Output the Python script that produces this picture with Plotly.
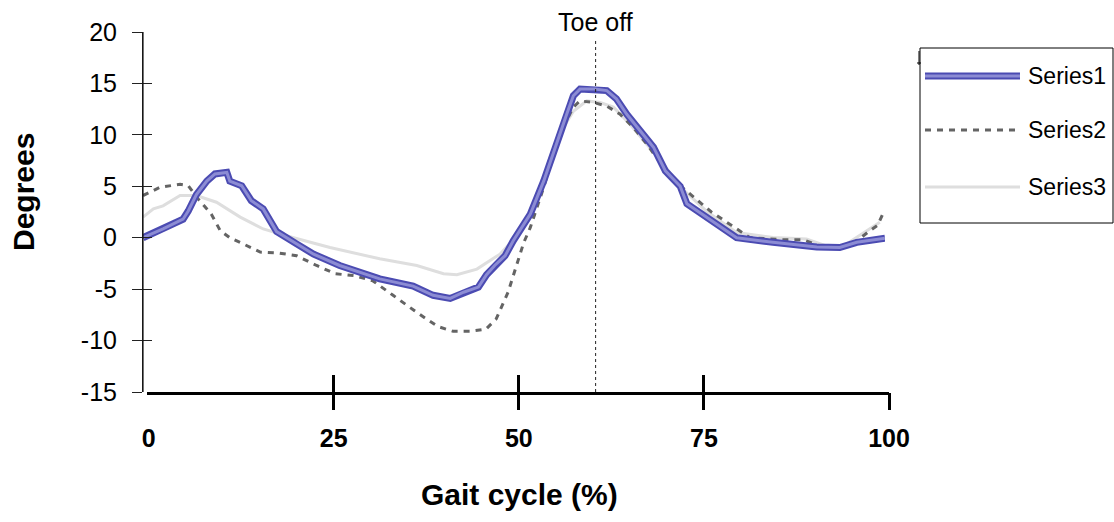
import plotly.graph_objects as go

# ---------------- data ----------------
series_names = ["Series1", "Series2", "Series3"]

x1 = [0, 2.7, 5.4, 6.1, 7.2, 8.6, 9.7, 11.3, 11.7, 13.3, 14.6, 16.2, 18.0, 20.7, 23, 26.5,
      31.9, 36.4, 39.1, 41.4, 43.2, 45.2, 46.3, 47.4, 48.8, 49.9, 52.2, 54, 55.8, 57.1, 58,
      58.9, 60.9, 62.5, 63.8, 65.2, 67, 68.8, 70.4, 72.4, 73.3, 75.9, 80, 84.9, 90.8, 93.9,
      96.2, 100]
y1 = [0, 0.85, 1.8, 2.6, 4.2, 5.5, 6.2, 6.35, 5.5, 5.05, 3.6, 2.8, 0.6, -0.6, -1.6, -2.7,
      -4.0, -4.7, -5.6, -5.9, -5.3, -4.8, -3.6, -2.7, -1.75, -0.3, 2.3, 5.5, 9.4, 12.0, 13.8,
      14.45, 14.45, 14.3, 13.5, 12.0, 10.4, 8.8, 6.5, 5.0, 3.3, 2.0, 0.0, -0.45, -0.9, -0.95,
      -0.45, -0.05]

x2 = [0, 2.3, 5, 6.1, 7.4, 9.2, 10.4, 11.7, 13.5, 15.8, 18.4, 20.7, 23.4, 25.9, 28.6, 31,
      33.7, 35.3, 36.6, 38.2, 39.8, 41.8, 44.1, 46.2, 47.6, 49.2, 50.3, 51.3, 52.2, 53.1, 54,
      55.3, 56.6, 58, 58.9, 60.7, 62.5, 64.3, 66.1, 67.9, 70, 72.5, 76.6, 81.8, 86.3, 89,
      91.2, 93.9, 96.2, 98, 99, 99.7]
y2 = [4.1, 4.9, 5.2, 5.05, 3.8, 2.3, 0.7, 0.0, -0.6, -1.4, -1.5, -1.75, -2.7, -3.5, -3.7,
      -4.2, -5.6, -6.45, -7.1, -7.9, -8.65, -9.1, -9.1, -8.9, -7.9, -5.3, -2.8, -0.5, 1.0,
      2.9, 4.9, 8.1, 10.7, 12.7, 13.3, 13.15, 12.8, 12.0, 10.7, 9.1, 7.0, 5.0, 2.5, 0.0,
      -0.2, -0.2, -0.8, -0.95, -0.3, 0.7, 1.2, 2.3]

x3 = [0, 1.4, 2.7, 5, 7.2, 9.9, 13.1, 16.2, 19.8, 25.2, 31.9, 36.9, 40.5, 42.3, 45, 46.8,
      48.1, 49.4, 50.8, 53.1, 54.8, 56.4, 58, 59.8, 61.6, 63.4, 65.6, 67.9, 70.1, 72.6, 75.9,
      80, 84.9, 89.4, 92.1, 94.4, 96.6, 99.3]
y3 = [2.0, 2.8, 3.1, 4.1, 4.1, 3.45, 2.0, 0.85, 0.1, -0.95, -2.05, -2.7, -3.5, -3.6, -3.05,
      -2.2, -1.6, -0.6, 0.7, 3.6, 7.2, 10.4, 12.3, 13.3, 13.15, 12.7, 11.05, 9.1, 7.2, 4.8,
      2.6, 0.5, 0.03, -0.13, -0.8, -0.8, 0.2, 1.5]

x_tick_vals = [0, 25, 50, 75, 100]
x_tick_labels = ["0", "25", "50", "75", "100"]
x_mark_vals = [25, 50, 75, 100]
y_tick_vals = [-15, -10, -5, 0, 5, 10, 15, 20]
y_tick_labels = ["-15", "-10", "-5", "0", "5", "10", "15", "20"]
toe_off_pct = 61
toe_off_label = "Toe off"
x_title = "Gait cycle (%)"
y_title = "Degrees"

# ---------------- layout geometry ----------------
W, H = 1114, 522
ML, MR, MT, MB = 143, 225, 32, 130
PW = W - ML - MR          # 746
PH = H - MT - MB          # 360

def px_x(p):   # pixel x -> paper x
    return (p - ML) / PW

def px_y(p):   # pixel y -> paper y
    return (H - MB - p) / PH

FONT = "Liberation Sans, Arial, sans-serif"
S1_OUT, S1_IN = "#4b4bb2", "#8c8cd4"
S2_COL = "#646464"
S2_DASH = "6px,6px"
S3_COL = "#dedede"
CLEAR = "rgba(0,0,0,0)"

fig = go.Figure()

# Series3 (light grey, drawn first)
fig.add_trace(go.Scatter(x=x3, y=y3, mode="lines", name=series_names[2],
                         line=dict(color=S3_COL, width=3), showlegend=False))
# Series2 (dark dashed)
fig.add_trace(go.Scatter(x=x2, y=y2, mode="lines", name=series_names[1],
                         line=dict(color=S2_COL, width=3, dash=S2_DASH), showlegend=False))
# Series1 (thick hatched blue)
fig.add_trace(go.Scatter(x=x1, y=y1, mode="lines", name=series_names[0],
                         line=dict(color=S1_OUT, width=7), showlegend=False))
fig.add_trace(go.Scatter(x=x1, y=y1, mode="lines", name=series_names[0],
                         line=dict(color=S1_IN, width=3), showlegend=False, hoverinfo="skip"))

# helper traces so the tick axes exist
for ax in ["x2", "x3", "x4"]:
    fig.add_trace(go.Scatter(x=x_tick_vals, y=[None] * len(x_tick_vals), xaxis=ax, yaxis="y",
                             mode="lines", showlegend=False, hoverinfo="skip"))
fig.add_trace(go.Scatter(x=[None], y=y_tick_vals, xaxis="x", yaxis="y2",
                         mode="lines", showlegend=False, hoverinfo="skip"))

x2_dom0 = 3.7 / PW
x_lab_range = [-0.27, 100]

fig.update_layout(
    width=W, height=H,
    margin=dict(l=ML, r=MR, t=MT, b=MB, pad=0),
    paper_bgcolor="white", plot_bgcolor=CLEAR,
    font=dict(family=FONT, color="black"),
    showlegend=False,
    xaxis=dict(domain=[0, 742 / PW], range=[0, 100], visible=False),
    # labels axis
    xaxis2=dict(domain=[x2_dom0, 1], range=x_lab_range, anchor="y",
                showline=True, linewidth=3, linecolor="black",
                ticks="", tickvals=x_tick_vals, ticktext=x_tick_labels,
                tickfont=dict(family=FONT, size=25, color="black", weight="bold"),
                ticklabelstandoff=22, showgrid=False, zeroline=False),
    # tick marks outside
    xaxis3=dict(overlaying="x2", range=x_lab_range, anchor="y", side="bottom",
                showline=False, ticks="outside", ticklen=17, tickwidth=3, tickcolor="black",
                tickvals=x_mark_vals, showticklabels=False, showgrid=False, zeroline=False),
    # tick marks inside
    xaxis4=dict(overlaying="x2", range=x_lab_range, anchor="y", side="bottom",
                showline=False, ticks="inside", ticklen=17, tickwidth=3, tickcolor="black",
                tickvals=x_mark_vals, showticklabels=False, showgrid=False, zeroline=False),
    yaxis=dict(range=[-15, 20], anchor="x", showline=True, linewidth=1, linecolor="#222222",
               ticks="outside", ticklen=10, tickwidth=1, tickcolor="#222222",
               tickvals=y_tick_vals, ticktext=y_tick_labels,
               tickfont=dict(family=FONT, size=25, color="black"),
               ticklabelstandoff=10, showgrid=False, zeroline=False),
    yaxis2=dict(range=[-15, 20], overlaying="y", anchor="x", side="left",
                showline=True, linewidth=1, linecolor="#222222",
                ticks="inside", ticklen=9, tickwidth=1, tickcolor="#222222",
                tickvals=y_tick_vals, showticklabels=False, showgrid=False, zeroline=False),
)

# y axis line (explicit, spans the full value range)
fig.add_shape(type="line", xref="paper", yref="y", x0=0, x1=0, y0=-15, y1=20,
              line=dict(color="#111111", width=1.2))

# Toe off vertical line and label
fig.add_shape(type="line", xref="x", yref="y", x0=toe_off_pct, x1=toe_off_pct,
              y0=-15, y1=19.4, line=dict(color="#222222", width=1, dash="dot"))
fig.add_annotation(x=toe_off_pct, xref="x", y=px_y(22), yref="paper",
                   text=toe_off_label, showarrow=False, xanchor="center", yanchor="middle",
                   font=dict(family=FONT, size=25, color="black"))

# axis titles
fig.add_annotation(x=px_x(519), y=px_y(495), xref="paper", yref="paper",
                   text=x_title, showarrow=False, xanchor="center", yanchor="middle",
                   font=dict(family=FONT, size=30, color="black", weight="bold"))
fig.add_annotation(x=px_x(23), y=px_y(192), xref="paper", yref="paper",
                   text=y_title, showarrow=False, textangle=-90,
                   xanchor="center", yanchor="middle",
                   font=dict(family=FONT, size=30, color="black", weight="bold"))

# custom legend
fig.add_shape(type="rect", xref="paper", yref="paper",
              x0=px_x(920), x1=px_x(1113), y0=px_y(223), y1=px_y(48),
              line=dict(color="black", width=1), fillcolor="white", layer="below")
# small artifact marks at top-left of legend box
fig.add_shape(type="line", xref="paper", yref="paper", x0=px_x(919), x1=px_x(919),
              y0=px_y(51), y1=px_y(65), line=dict(color="black", width=1))
fig.add_shape(type="line", xref="paper", yref="paper", x0=px_x(917), x1=px_x(921),
              y0=px_y(63), y1=px_y(63), line=dict(color="black", width=1))

leg_y = [76, 130, 187]
leg_styles = [
    [dict(color=S1_OUT, width=7), dict(color=S1_IN, width=3)],
    [dict(color=S2_COL, width=3, dash=S2_DASH)],
    [dict(color=S3_COL, width=3)],
]
for name, yy, styles in zip(series_names, leg_y, leg_styles):
    for st in styles:
        fig.add_shape(type="line", xref="paper", yref="paper",
                      x0=px_x(925), x1=px_x(1020), y0=px_y(yy), y1=px_y(yy), line=st)
    fig.add_annotation(x=px_x(1026), y=px_y(yy), xref="paper", yref="paper",
                       text=name, showarrow=False, xanchor="left", yanchor="middle",
                       font=dict(family=FONT, size=23, color="black"))

fig.write_html("out.html", config={"displayModeBar": False},
               post_script="document.body.style.margin='0';")
